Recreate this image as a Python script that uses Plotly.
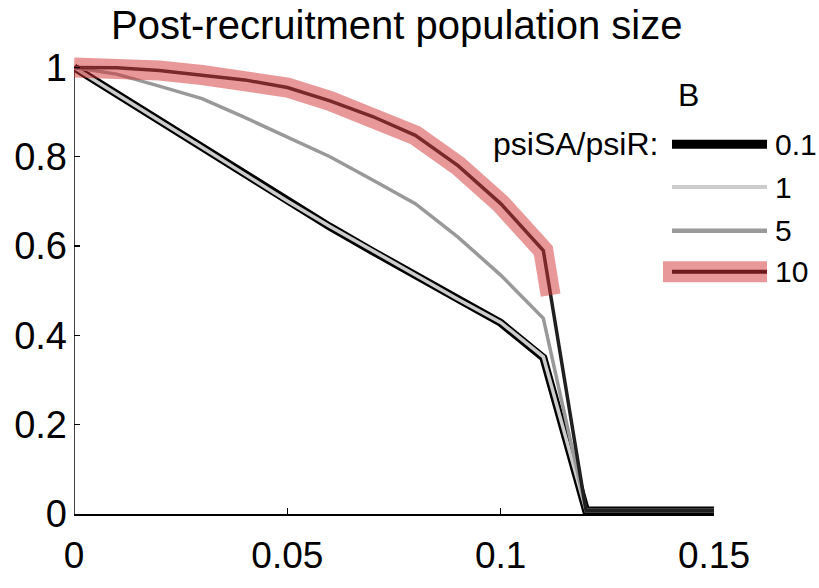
import plotly.graph_objects as go

# ---- data ----
x_vals = [0, 0.01, 0.02, 0.03, 0.04, 0.05, 0.06, 0.07, 0.08, 0.09, 0.10, 0.11,
          0.12, 0.13, 0.14, 0.15]
ratio_01 = [1.0, 0.94, 0.88, 0.82, 0.76, 0.70, 0.643, 0.588, 0.533, 0.48, 0.428, 0.35,
            0.008, 0.008, 0.008, 0.008]
ratio_1 = [1.0, 0.941, 0.881, 0.821, 0.761, 0.701, 0.644, 0.589, 0.534, 0.481, 0.429, 0.352,
           0.008, 0.008, 0.008, 0.008]
ratio_5 = [1.0, 0.985, 0.958, 0.93, 0.888, 0.845, 0.80, 0.748, 0.695, 0.62, 0.535, 0.438,
           0.008, 0.008, 0.008, 0.008]
ratio_10 = [1.0, 0.999, 0.993, 0.983, 0.972, 0.955, 0.925, 0.89, 0.848, 0.78, 0.695, 0.59,
            0.008, 0.008, 0.008, 0.008]
# highlighted part of the psiSA/psiR = 10 curve
band_x = [0, 0.01, 0.02, 0.03, 0.04, 0.05, 0.06, 0.07, 0.08, 0.09, 0.10, 0.11, 0.1117]
band_y = [1.0, 0.999, 0.993, 0.983, 0.972, 0.955, 0.925, 0.89, 0.848, 0.78, 0.695, 0.59, 0.49]

legend_labels = ["0.1", "1", "5", "10"]
x_ticks = [0, 0.05, 0.1, 0.15]
x_tick_text = ["0", "0.05", "0.1", "0.15"]
y_ticks = [0, 0.2, 0.4, 0.6, 0.8, 1]
y_tick_text = ["0", "0.2", "0.4", "0.6", "0.8", "1"]

FONT = "Liberation Sans, Arial, Helvetica, sans-serif"
BAND = "rgba(210,50,50,0.5)"
C_01 = "#000000"
C_1 = "#cccccc"
C_5 = "#999999"
C_10 = "#202020"

fig = go.Figure()
fig.add_trace(go.Scatter(x=x_vals, y=ratio_01, mode="lines",
                         line=dict(color=C_01, width=8), showlegend=False))
fig.add_trace(go.Scatter(x=x_vals, y=ratio_1, mode="lines",
                         line=dict(color=C_1, width=3.5), showlegend=False))
fig.add_trace(go.Scatter(x=x_vals, y=ratio_5, mode="lines",
                         line=dict(color=C_5, width=3.5), showlegend=False))
fig.add_trace(go.Scatter(x=x_vals, y=ratio_10, mode="lines",
                         line=dict(color=C_10, width=3.5), showlegend=False))
fig.add_trace(go.Scatter(x=band_x, y=band_y, mode="lines",
                         line=dict(color=BAND, width=20), showlegend=False))

# ---- custom legend (paper coordinates; plot area is 640 x 484 px) ----
def px_x(p):
    return (p - 74) / 640.0

def px_y(p):
    return (538 - p) / 484.0

shapes = []
# y axis line from 0 to 1 only
shapes.append(dict(type="line", xref="x", yref="y", x0=0, x1=0, y0=0, y1=1,
                   line=dict(color="black", width=1.5), layer="below"))
leg_rows = [149, 194, 240, 283]
leg_styles = [(C_01, 9), (C_1, 4), (C_5, 4.5), ("#6e1a1a", 4)]
# red band behind entry "10"
shapes.append(dict(type="line", xref="paper", yref="paper",
                   x0=px_x(663), x1=px_x(767), y0=px_y(283), y1=px_y(283),
                   line=dict(color="rgb(232,152,152)", width=21)))
for row, (col, w) in zip(leg_rows, leg_styles):
    shapes.append(dict(type="line", xref="paper", yref="paper",
                       x0=px_x(672), x1=px_x(767), y0=px_y(row), y1=px_y(row),
                       line=dict(color=col, width=w)))

annotations = []
for row, lab in zip(leg_rows, legend_labels):
    annotations.append(dict(text=lab, xref="paper", yref="paper", x=px_x(774), y=px_y(row),
                            xanchor="left", yanchor="middle", showarrow=False, borderpad=0,
                            font=dict(family=FONT, size=30, color="black")))
annotations.append(dict(text="psiSA/psiR:", xref="paper", yref="paper", x=px_x(659), y=px_y(149),
                        xanchor="right", yanchor="middle", showarrow=False, borderpad=0,
                        font=dict(family=FONT, size=32, color="black")))
annotations.append(dict(text="B", xref="paper", yref="paper", x=px_x(688), y=px_y(97),
                        xanchor="center", yanchor="middle", showarrow=False, borderpad=0,
                        font=dict(family=FONT, size=32, color="black")))
annotations.append(dict(text="Post-recruitment population size", xref="paper", yref="paper",
                        x=px_x(396), y=px_y(23), xanchor="center", yanchor="middle",
                        showarrow=False, borderpad=0,
                        font=dict(family=FONT, size=40, color="black")))

fig.update_layout(
    width=819, height=588,
    margin=dict(l=74, r=105, t=54, b=50, pad=0),
    paper_bgcolor="white", plot_bgcolor="white",
    showlegend=False,
    shapes=shapes, annotations=annotations,
    font=dict(family=FONT, size=36, color="black"),
    xaxis=dict(range=[0, 0.15], tickvals=x_ticks, ticktext=x_tick_text,
               ticks="inside", ticklen=6, tickwidth=1.5, tickcolor="black",
               showline=True, linecolor="black", linewidth=1.5,
               showgrid=False, zeroline=False, ticklabelstandoff=8,
               tickfont=dict(family=FONT, size=37, color="black")),
    yaxis=dict(range=[0, 1.03], tickvals=y_ticks, ticktext=y_tick_text,
               ticks="inside", ticklen=6, tickwidth=1.5, tickcolor="black",
               showline=False, showgrid=False, zeroline=False, ticklabelstandoff=6,
               tickfont=dict(family=FONT, size=38, color="black")),
)

fig.write_html("out.html",
               config={"displayModeBar": False, "staticPlot": True},
               post_script="document.body.style.margin='0px';document.body.style.overflow='hidden';")
